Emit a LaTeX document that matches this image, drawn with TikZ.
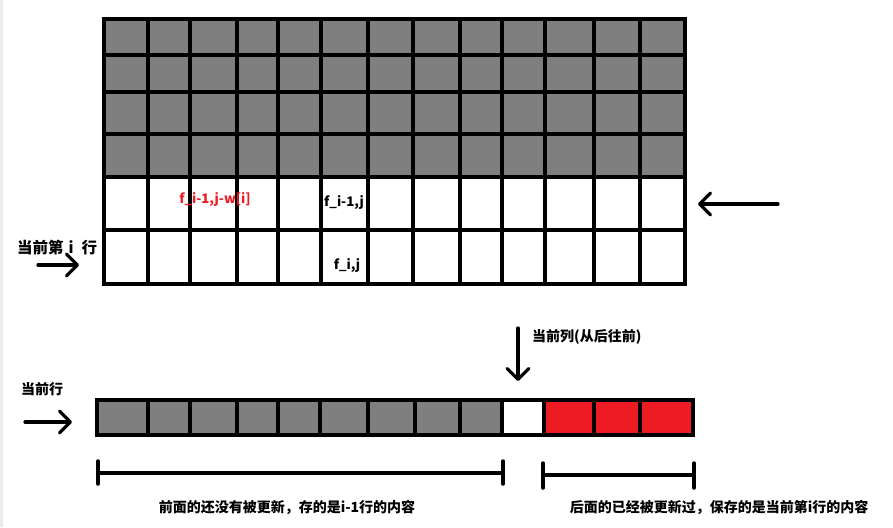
\documentclass[tikz,border=0pt]{standalone}
\usepackage{fontspec}
\setmainfont{Noto Sans CJK SC}
\usetikzlibrary{arrows.meta}
\definecolor{cellgrey}{HTML}{7F7F7F}
\definecolor{cellred}{HTML}{ED1C24}
\definecolor{margingrey}{HTML}{EBEBEB}
\definecolor{labelred}{HTML}{ED1C24}
\begin{document}
\begin{tikzpicture}[x=1pt,y=-1pt,
  gridline/.style={line width=4pt,black},
  arrowline/.style={line width=3.2pt,line cap=round,-{Straight Barb[round,length=11pt,width=22pt]}},
  bracketline/.style={line width=3.5pt,line cap=round},
  cjklabel/.style={font=\fontsize{14}{16}\selectfont\bfseries,inner sep=0pt},
  cellmark/.style={font=\fontsize{13.2}{15}\selectfont\bfseries,inner sep=0pt}]
\useasboundingbox (0,0) rectangle (893,527);
\fill[margingrey] (0,0) rectangle (3,527);
% ---------- top grid ----------
\fill[cellgrey] (104,19) rectangle (685,177);
\fill[white] (104,177) rectangle (685,284);
\foreach \x in {148,190,237,278,321,368,413,460,502,545,594,640}
  \draw[gridline] (\x,19) -- (\x,284);
\foreach \y in {55,92,134,177,230}
  \draw[gridline] (104,\y) -- (685,\y);
\draw[gridline] (104,19) rectangle (685,284);
% labels in grid
\node[cellmark,text=labelred] (fprev) at (215,200) {f\_i-1,j-w[i]};
\node[cellmark] (fup) at (344,203) {f\_i-1,j};
\node[cellmark] (fcur) at (347,266) {f\_i,j};
% current row label and arrows
\node[font=\fontsize{15.5}{17}\selectfont\bfseries,inner sep=0pt,anchor=west] (currowi) at (17,248) {当前第\hspace{5pt}i\hspace{8pt}行};
\coordinate (ai1) at (38,265);
\coordinate (ai2) at (79,265);
\draw[arrowline] (ai1) -- (ai2);
\coordinate (ar1) at (778,204);
\coordinate (ar2) at (698,204);
\draw[arrowline] (ar1) -- (ar2);
% ---------- bottom array ----------
\fill[cellgrey] (97,400) rectangle (502,435);
\fill[white] (502,400) rectangle (544,435);
\fill[cellred] (544,400) rectangle (693,435);
\foreach \x in {148,190,237,278,320,368,415,460,502,544,594,640}
  \draw[gridline] (\x,400) -- (\x,435);
\draw[gridline] (97,400) rectangle (693,435);
% current column
\coordinate (ac1) at (518,328);
\coordinate (ac2) at (518,381);
\draw[arrowline] (ac1) -- (ac2);
\node[cjklabel,anchor=west] (curcol) at (532,337) {当前列(从后往前)};
% current row
\node[cjklabel] (currow) at (42,389) {当前行};
\coordinate (aw1) at (25,422);
\coordinate (aw2) at (72,422);
\draw[arrowline] (aw1) -- (aw2);
% brackets
\coordinate (bl1) at (98,473);
\coordinate (bl2) at (503,473);
\draw[bracketline] (bl1) -- (bl2);
\draw[bracketline] ([yshift=-11pt]bl1) -- ([yshift=12pt]bl1);
\draw[bracketline] ([yshift=-11pt]bl2) -- ([yshift=12pt]bl2);
\coordinate (br1) at (543,475);
\coordinate (br2) at (694,475);
\draw[bracketline] (br1) -- (br2);
\draw[bracketline] ([yshift=-13pt]br1) -- ([yshift=12pt]br1);
\draw[bracketline] ([yshift=-13pt]br2) -- ([yshift=12pt]br2);
\node[cjklabel] (leftnote) at (287,507) {前面的还没有被更新，存的是i-1行的内容};
\node[cjklabel] (rightnote) at (719,507) {后面的已经被更新过，保存的是当前第i行的内容};
\end{tikzpicture}
\end{document}
